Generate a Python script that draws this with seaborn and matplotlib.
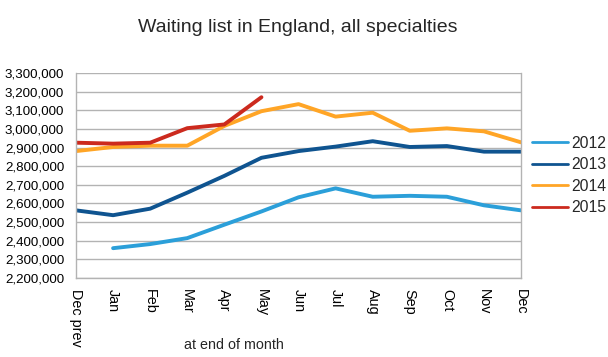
import matplotlib
matplotlib.use("Agg")
import matplotlib.pyplot as plt
import matplotlib.ticker as mticker
import seaborn as sns
import numpy as np
import pandas as pd

months = ["Dec prev", "Jan", "Feb", "Mar", "Apr", "May", "Jun",
          "Jul", "Aug", "Sep", "Oct", "Nov", "Dec"]

# waiting list size at end of month (nan = no data)
wl_2012 = [np.nan, 2360000, 2382000, 2414000, 2486000, 2557000, 2633000,
           2681000, 2636000, 2641000, 2636000, 2590000, 2563000]
wl_2013 = [2563000, 2537000, 2572000, 2658000, 2748000, 2845000, 2881000,
           2905000, 2934000, 2903000, 2908000, 2878000, 2878000]
wl_2014 = [2881000, 2903000, 2910000, 2910000, 3016000, 3095000, 3133000,
           3066000, 3087000, 2990000, 3003000, 2987000, 2928000]
wl_2015 = [2926000, 2921000, 2926000, 3004000, 3024000, 3170000]

years = ["2012", "2013", "2014", "2015"]
colors = ["#2b9fd9", "#0f5490", "#ffa526", "#cc2a1e"]

rows = []
for yr, vals in zip(years, [wl_2012, wl_2013, wl_2014, wl_2015]):
    for i, v in enumerate(vals):
        rows.append({"month": i, "year": yr, "value": v})
df = pd.DataFrame(rows)

sns.set_style("white")
plt.rcParams["font.family"] = ["Liberation Sans", "DejaVu Sans"]

fig = plt.figure(figsize=(6.08, 3.57), dpi=100)
ax = fig.add_axes([0.125, 0.2213, 0.732, 0.5742])

sns.lineplot(data=df, x="month", y="value", hue="year", palette=colors,
             linewidth=2.8, ax=ax, legend=True)

ax.set_xlim(0, 12)
ax.set_ylim(2200000, 3300000)
ax.set_yticks(np.arange(2200000, 3300001, 100000))
ax.yaxis.set_major_formatter(mticker.FuncFormatter(lambda v, p: f"{int(v):,}"))
ax.set_xticks(range(13))
ax.set_xticklabels(months, rotation=270, va="top", ha="center")
ax.tick_params(axis="both", colors="#b0b0b0", labelcolor="black",
               length=5, width=1, direction="out")
ax.tick_params(axis="y", labelsize=9.6, pad=3.5)
ax.tick_params(axis="x", labelsize=10.4, pad=3)

ax.grid(axis="y", color="#b3b3b3", linewidth=1)
ax.set_axisbelow(True)
for s in ["left", "right", "bottom"]:
    ax.spines[s].set_color("#b3b3b3")
    ax.spines[s].set_linewidth(1)
ax.spines["top"].set_visible(False)

ax.set_xlabel("")
ax.set_ylabel("")
fig.text(234 / 608, 1 - 345 / 357, "at end of month", fontsize=10.3,
         ha="center", va="center")
fig.text(298 / 608, 1 - 27 / 357, "Waiting list in England, all specialties",
         fontsize=14, ha="center", va="center")

leg = ax.legend(loc="center left", frameon=False, borderpad=0,
                borderaxespad=0, fontsize=11.3, handlelength=2.3,
                handletextpad=0.2, labelspacing=0.42)
leg.set_bbox_to_anchor((1.025, 0.5), transform=ax.transAxes)
for ln in leg.get_lines():
    ln.set_linewidth(2)

fig.savefig("out.png", dpi=100)
